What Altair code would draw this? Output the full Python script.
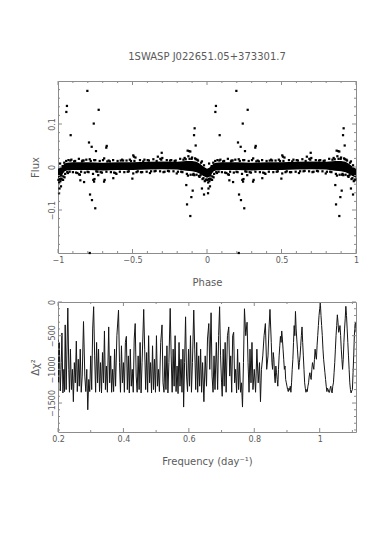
import altair as alt
import pandas as pd

# ---------------- text ----------------
title_text = "1SWASP J022651.05+373301.7"
phase_title = "Phase"
flux_title = "Flux"
freq_title = "Frequency (day\u207b\u00b9)"
chi_title = "\u0394\u03c7\u00b2"

# ---------------- top panel: folded light curve (phase 0..1, drawn at phase and phase-1) ----------------
band_phase = [0.0, 0.015, 0.03, 0.045, 0.06, 0.1, 0.2, 0.3, 0.4, 0.5, 0.6, 0.7, 0.8, 0.86, 0.9, 0.93, 0.955, 0.975, 1.0]
band_hi = [-0.004, -0.002, 0.003, 0.008, 0.010, 0.011, 0.011, 0.010, 0.011, 0.011, 0.012, 0.013, 0.012, 0.014, 0.014, 0.012, 0.007, 0.001, -0.004]
band_lo = [-0.025, -0.023, -0.017, -0.010, -0.008, -0.007, -0.007, -0.008, -0.007, -0.007, -0.006, -0.005, -0.006, -0.009, -0.010, -0.012, -0.016, -0.021, -0.025]

fringe_phase = [0.003, 0.008, 0.012, 0.016, 0.021, 0.026, 0.031, 0.036, 0.042, 0.048,
                0.055, 0.062, 0.07, 0.078, 0.09, 0.1, 0.115, 0.13, 0.14, 0.155,
                0.165, 0.18, 0.19, 0.205, 0.22, 0.235, 0.25, 0.265, 0.28, 0.295,
                0.31, 0.325, 0.34, 0.355, 0.37, 0.385, 0.4, 0.415, 0.43, 0.445,
                0.46, 0.475, 0.49, 0.505, 0.52, 0.535, 0.55, 0.565, 0.58, 0.595,
                0.61, 0.625, 0.64, 0.655, 0.67, 0.685, 0.7, 0.715, 0.73, 0.745,
                0.76, 0.775, 0.79, 0.805, 0.82, 0.835, 0.85, 0.865, 0.875, 0.89,
                0.9, 0.91, 0.92, 0.93, 0.94, 0.95, 0.96, 0.97, 0.98, 0.99, 0.995,
                0.024, 0.067, 0.108, 0.147, 0.172, 0.213, 0.257, 0.302, 0.348, 0.392,
                0.437, 0.482, 0.527, 0.572, 0.617, 0.662, 0.708, 0.752, 0.797, 0.842,
                0.872, 0.897, 0.915, 0.935, 0.957, 0.985,
                0.083, 0.121, 0.161, 0.198, 0.243, 0.286, 0.331, 0.377, 0.421, 0.468,
                0.513, 0.557, 0.602, 0.648, 0.693, 0.738, 0.783, 0.827, 0.857, 0.883,
                0.906, 0.925, 0.946, 0.966, 0.976, 0.034, 0.014, 0.044]
fringe_flux = [-0.030, -0.036, -0.028, -0.033, -0.027, -0.029, 0.002, -0.022, 0.010, -0.016,
               0.014, -0.012, 0.016, -0.011, 0.017, -0.012, 0.014, -0.014, 0.019, -0.011,
               0.015, -0.013, 0.017, -0.012, 0.014, -0.016, 0.016, -0.011, 0.014, -0.013,
               0.020, -0.011, 0.015, -0.012, 0.016, -0.014, 0.014, -0.011, 0.017, -0.012,
               0.015, -0.010, 0.014, -0.015, 0.022, -0.010, 0.016, -0.012, 0.017, -0.011,
               0.015, -0.010, 0.018, -0.009, 0.024, -0.010, 0.021, -0.011, 0.016, -0.010,
               0.016, -0.010, 0.015, -0.011, 0.019, -0.012, 0.021, -0.016, 0.025, -0.018,
               0.022, -0.016, 0.020, -0.018, 0.015, -0.023, 0.010, -0.028, 0.004, -0.031, -0.029,
               -0.020, -0.014, 0.013, -0.018, 0.015, 0.018, -0.010, 0.016, 0.013, -0.016,
               0.015, 0.017, -0.012, 0.013, -0.014, 0.014, -0.012, 0.015, -0.015, 0.017,
               -0.020, 0.019, -0.019, 0.017, -0.019, -0.033,
               0.015, -0.013, 0.013, -0.011, 0.016, -0.012, 0.013, -0.013, 0.015, -0.011,
               0.014, -0.012, 0.016, -0.010, 0.017, -0.009, 0.014, -0.011, 0.018, 0.019,
               -0.018, 0.018, -0.021, 0.013, -0.026, -0.030, 0.008, -0.024]

outlier_phase = [0.197, 0.060, 0.056, 0.273, 0.240, 0.085, 0.208, 0.226, 0.255, 0.324,
                 0.327, 0.215, 0.228, 0.250, 0.237, 0.245, 0.242, 0.175, 0.270, 0.309,
                 0.213, 0.917, 0.913, 0.924, 0.880, 0.870, 0.888, 0.861, 0.904, 0.895,
                 0.866, 0.888, 0.980, 0.966, 0.499, 0.696, 0.505, 0.510, 0.687, 0.371,
                 0.313, 0.007, 0.150, 0.141, 0.010, 0.020]
outlier_flux = [0.177, 0.142, 0.128, 0.133, 0.101, 0.074, 0.057, 0.047, 0.037, 0.045,
                0.049, -0.064, -0.077, -0.096, -0.030, -0.028, -0.034, -0.035, -0.019, -0.034,
                -0.200, 0.090, 0.074, 0.050, 0.037, 0.038, 0.036, -0.042, -0.055, -0.070,
                -0.087, -0.114, -0.064, -0.050, -0.027, 0.033, 0.027, 0.024, 0.019, -0.026,
                -0.030, -0.061, -0.031, -0.017, -0.050, -0.045]

x_major_top = [-1, -0.5, 0, 0.5, 1]
x_minor_top = [-0.9, -0.8, -0.7, -0.6, -0.4, -0.3, -0.2, -0.1, 0.1, 0.2, 0.3, 0.4, 0.6, 0.7, 0.8, 0.9]
y_major_top = [-0.1, 0, 0.1]
y_minor_top = [-0.18, -0.16, -0.14, -0.12, -0.08, -0.06, -0.04, -0.02,
               0.02, 0.04, 0.06, 0.08, 0.12, 0.14, 0.16, 0.18]

# ---------------- bottom panel: periodogram ----------------
freq = [0.200, 0.202, 0.204, 0.207, 0.210, 0.212, 0.215, 0.218, 0.220, 0.222,
        0.225, 0.227, 0.230, 0.233, 0.235, 0.238, 0.241, 0.244, 0.247, 0.250,
        0.253, 0.256, 0.259, 0.262, 0.265, 0.268, 0.271, 0.274, 0.278, 0.282,
        0.285, 0.288, 0.291, 0.294, 0.297, 0.300, 0.303, 0.306, 0.309, 0.312,
        0.315, 0.318, 0.321, 0.324, 0.327, 0.330, 0.333, 0.336, 0.339, 0.342,
        0.345, 0.348, 0.351, 0.355, 0.358, 0.361, 0.364, 0.367, 0.370, 0.373,
        0.376, 0.380, 0.385, 0.388, 0.391, 0.394, 0.397, 0.400, 0.403, 0.406,
        0.409, 0.412, 0.415, 0.418, 0.421, 0.424, 0.427, 0.430, 0.433, 0.436,
        0.439, 0.442, 0.445, 0.448, 0.451, 0.454, 0.457, 0.462, 0.465, 0.468,
        0.471, 0.474, 0.477, 0.480, 0.483, 0.486, 0.489, 0.492, 0.495, 0.498,
        0.501, 0.504, 0.507, 0.510, 0.514, 0.518, 0.521, 0.524, 0.527, 0.530,
        0.533, 0.536, 0.539, 0.543, 0.546, 0.549, 0.552, 0.555, 0.558, 0.561,
        0.564, 0.567, 0.570, 0.573, 0.576, 0.579, 0.582, 0.584, 0.587, 0.590,
        0.593, 0.596, 0.599, 0.602, 0.605, 0.608, 0.611, 0.615, 0.618, 0.621,
        0.624, 0.627, 0.630, 0.633, 0.636, 0.639, 0.642, 0.646, 0.650, 0.654,
        0.657, 0.661, 0.664, 0.668, 0.671, 0.674, 0.677, 0.680, 0.684, 0.688,
        0.691, 0.694, 0.697, 0.700, 0.702, 0.705, 0.708, 0.711, 0.714, 0.718,
        0.722, 0.725, 0.728, 0.731, 0.734, 0.737, 0.740, 0.743, 0.746, 0.749,
        0.752, 0.755, 0.758, 0.761, 0.764, 0.767, 0.770, 0.774, 0.778, 0.781,
        0.784, 0.787, 0.790, 0.793, 0.796, 0.800, 0.804, 0.808, 0.812, 0.816,
        0.819, 0.822, 0.826, 0.830, 0.834, 0.838, 0.842, 0.845, 0.848, 0.852,
        0.854, 0.856, 0.858, 0.860, 0.862, 0.864, 0.866, 0.868, 0.870, 0.872,
        0.874, 0.876, 0.878, 0.880, 0.882, 0.884, 0.886, 0.888, 0.890, 0.892,
        0.894, 0.896, 0.898, 0.900, 0.902, 0.904, 0.906, 0.908, 0.910, 0.912,
        0.914, 0.916, 0.918, 0.920, 0.922, 0.924, 0.926, 0.928, 0.930, 0.932,
        0.934, 0.936, 0.938, 0.940, 0.942, 0.944, 0.946, 0.948, 0.950, 0.952,
        0.954, 0.956, 0.958, 0.960, 0.962, 0.964, 0.966, 0.968, 0.970, 0.972,
        0.974, 0.976, 0.978, 0.980, 0.982, 0.984, 0.986, 0.988, 0.990, 0.992,
        0.994, 0.996, 0.998, 1.000, 1.002, 1.004, 1.006, 1.008, 1.010, 1.012,
        1.014, 1.016, 1.018, 1.020, 1.022, 1.024, 1.026, 1.028, 1.030, 1.032,
        1.034, 1.036, 1.038, 1.040, 1.042, 1.044, 1.046, 1.048, 1.050, 1.052,
        1.054, 1.056, 1.058, 1.060, 1.062, 1.064, 1.066, 1.068, 1.070, 1.072,
        1.074, 1.076, 1.078, 1.080, 1.082, 1.084, 1.086, 1.088, 1.090, 1.092,
        1.094, 1.096, 1.098, 1.100, 1.102, 1.104, 1.106, 1.108, 1.110, 1.111]
dchi2 = [-560, -1200, -600, -1320, -900, -460, -1350, -1000, -1330, -340,
         -1300, -800, -90, -1000, -1340, -700, -1300, -1000, -1480, -900,
         -1200, -580, -1330, -850, -1250, -700, -1340, -1100, -290, -1100,
         -1330, -1000, -1600, -1150, -1330, -800, -1300, -400, -70, -800,
         -1340, -600, -1200, -700, -1330, -900, -1350, -750, -1200, -430,
         -1300, -950, -1340, -370, -1200, -800, -1340, -1000, -1330, -700,
         -1250, -500, -120, -900, -1340, -650, -1200, -900, -1340, -600,
         -510, -1300, -800, -1350, -700, -1250, -1000, -1340, -550, -320,
         -1100, -1340, -800, -1300, -600, -1350, -900, -110, -700, -1300,
         -750, -1340, -500, -1200, -900, -1350, -650, -1300, -850, -1340,
         -500, -1250, -1000, -1330, -600, -340, -1200, -1340, -800, -1300,
         -650, -1350, -900, -95, -800, -1340, -700, -1250, -500, -1330,
         -950, -1360, -600, -1250, -850, -1340, -700, -1560, -900, -220,
         -1100, -1330, -700, -1250, -500, -1340, -900, -120, -700, -1300,
         -600, -1340, -800, -1250, -700, -1340, -900, -1480, -800, -1250,
         -550, -320, -1000, -160, -1100, -1340, -800, -1300, -600, -1300,
         -500, -70, -800, -1200, -1400, -700, -1250, -600, -1340, -500,
         -370, -1100, -800, -1340, -500, -450, -1200, -1000, -1350, -700,
         -1300, -900, -1340, -1200, -1560, -900, -100, -500, -300, -900,
         -1340, -700, -1200, -600, -1300, -1000, -1340, -700, -1200, -900,
         -1480, -1000, -800, -500, -320, -1000, -800, -400, -110, -600,
         -900, -1000, -750, -850, -1100, -1200, -950, -1050, -1150, -1250,
         -1000, -800, -650, -510, -600, -430, -550, -700, -850, -1000,
         -950, -1150, -1200, -1250, -1300, -1330, -1280, -1310, -1250, -1340,
         -1200, -1000, -850, -600, -350, -500, -140, -400, -550, -700,
         -850, -1000, -900, -800, -650, -500, -370, -600, -800, -1000,
         -1200, -1280, -1340, -1300, -1330, -1250, -1200, -1100, -1050, -1120,
         -1150, -1000, -900, -950, -1000, -850, -700, -800, -850, -650,
         -500, -350, -200, -100, -15, -200, -350, -500, -700, -850,
         -950, -1050, -1150, -1250, -1330, -1280, -1300, -1340, -1340, -1280,
         -1250, -1320, -1350, -1250, -1200, -1050, -900, -700, -500, -350,
         -190, -300, -450, -415, -350, -500, -700, -850, -1000, -850,
         -600, -400, -250, -64, -200, -400, -600, -800, -1000, -1200,
         -1300, -1350, -1320, -1300, -1050, -800, -500, -330, -300, -450]

x_major_bot = [0.2, 0.4, 0.6, 0.8, 1.0]
x_minor_bot = [0.3, 0.5, 0.7, 0.9, 1.1]
y_major_bot = [-1500, -1000, -500, 0]
y_minor_bot = [-1900, -1800, -1700, -1600, -1400, -1300, -1200, -1100,
               -900, -800, -700, -600, -400, -300, -200, -100]

# ---------------- styling ----------------
W, H1, H2 = 298, 172, 130
FONT = "DejaVu Sans"
GREY = "#5a5a5a"
FRAME = "#8c8c8c"
MAJ, MIN = 4, 2

xs_top = alt.Scale(domain=[-1, 1], nice=False, zero=False)
ys_top = alt.Scale(domain=[-0.2, 0.2], nice=False, zero=False)
xs_bot = alt.Scale(domain=[0.2, 1.111], nice=False, zero=False)
ys_bot = alt.Scale(domain=[-1930, 0], nice=False, zero=False)


def xaxis(values, title):
    return alt.Axis(values=values, format="~g", ticks=False, domain=False, grid=False,
                    labelPadding=3, title=title, titlePadding=13, labelFlush=False)


def yaxis(values, title, fmt):
    return alt.Axis(values=values, format=fmt, ticks=False, domain=False, grid=False,
                    labelAngle=270, labelAlign="center", labelBaseline="bottom",
                    labelPadding=2, title=title, titlePadding=8, labelFlush=False)


ax_x_top = xaxis(x_major_top, phase_title)
ax_y_top = yaxis(y_major_top, flux_title, "~g")
ax_x_bot = xaxis(x_major_bot, freq_title)
ax_y_bot = yaxis(y_major_bot, chi_title, "d")

# tables built from the arrays (each phase value is plotted at phase and phase-1)
band_rows = []
for p, lo, hi in zip(band_phase, band_lo, band_hi):
    band_rows.append({"x": p - 1, "y": lo, "y2": hi})
    band_rows.append({"x": p, "y": lo, "y2": hi})
band_df = pd.DataFrame(band_rows).sort_values("x")

pt_rows = []
for p, f in list(zip(fringe_phase, fringe_flux)) + list(zip(outlier_phase, outlier_flux)):
    pt_rows.append({"x": p - 1, "y": f})
    pt_rows.append({"x": p, "y": f})
pt_df = pd.DataFrame(pt_rows)

pg_df = pd.DataFrame({"x": freq, "y": dchi2})


def tick_layers(xs, ys, ax, ay, xmaj, xmin, ymaj, ymin, H):
    layers = []
    for vals, ln in ((xmaj, MAJ), (xmin, MIN)):
        d = pd.DataFrame({"x": vals})
        for y0, y1 in ((H, H - ln), (0, ln)):
            layers.append(alt.Chart(d).mark_rule(color=FRAME, strokeWidth=1).encode(
                x=alt.X("x:Q", scale=xs, axis=ax), y=alt.value(y0), y2=alt.value(y1)))
    for vals, ln in ((ymaj, MAJ), (ymin, MIN)):
        d = pd.DataFrame({"y": vals})
        for x0, x1 in ((0, ln), (W, W - ln)):
            layers.append(alt.Chart(d).mark_rule(color=FRAME, strokeWidth=1).encode(
                y=alt.Y("y:Q", scale=ys, axis=ay), x=alt.value(x0), x2=alt.value(x1)))
    return layers


band = alt.Chart(band_df).mark_area(color="black", opacity=1).encode(
    x=alt.X("x:Q", scale=xs_top, axis=ax_x_top),
    y=alt.Y("y:Q", scale=ys_top, axis=ax_y_top),
    y2="y2:Q",
)
pts = alt.Chart(pt_df).mark_square(color="black", size=5, opacity=1).encode(
    x=alt.X("x:Q", scale=xs_top, axis=ax_x_top),
    y=alt.Y("y:Q", scale=ys_top, axis=ax_y_top),
)
top = alt.layer(band, pts, *tick_layers(xs_top, ys_top, ax_x_top, ax_y_top,
                                         x_major_top, x_minor_top,
                                         y_major_top, y_minor_top, H1)).properties(
    width=W, height=H1,
    title=alt.TitleParams(title_text, font=FONT, fontSize=10, fontWeight="normal",
                          color=GREY, anchor="middle", frame="group", offset=19),
)

line = alt.Chart(pg_df).mark_line(color="#151515", strokeWidth=1.0, clip=True).encode(
    x=alt.X("x:Q", scale=xs_bot, axis=ax_x_bot),
    y=alt.Y("y:Q", scale=ys_bot, axis=ax_y_bot),
)
bottom = alt.layer(line, *tick_layers(xs_bot, ys_bot, ax_x_bot, ax_y_bot,
                                       x_major_bot, x_minor_bot,
                                       y_major_bot, y_minor_bot, H2)).properties(
    width=W, height=H2)

chart = alt.vconcat(top, bottom, spacing=49, bounds="flush").properties(
    padding={"left": 21, "top": 43, "right": 5, "bottom": 5}
).configure_view(stroke=FRAME, strokeWidth=1).configure_axis(
    labelFont=FONT, titleFont=FONT, labelColor=GREY, titleColor=GREY,
    labelFontSize=8, titleFontSize=10, titleFontWeight="normal",
)

chart.save("out.html", embed_options={"renderer": "svg", "actions": False})
